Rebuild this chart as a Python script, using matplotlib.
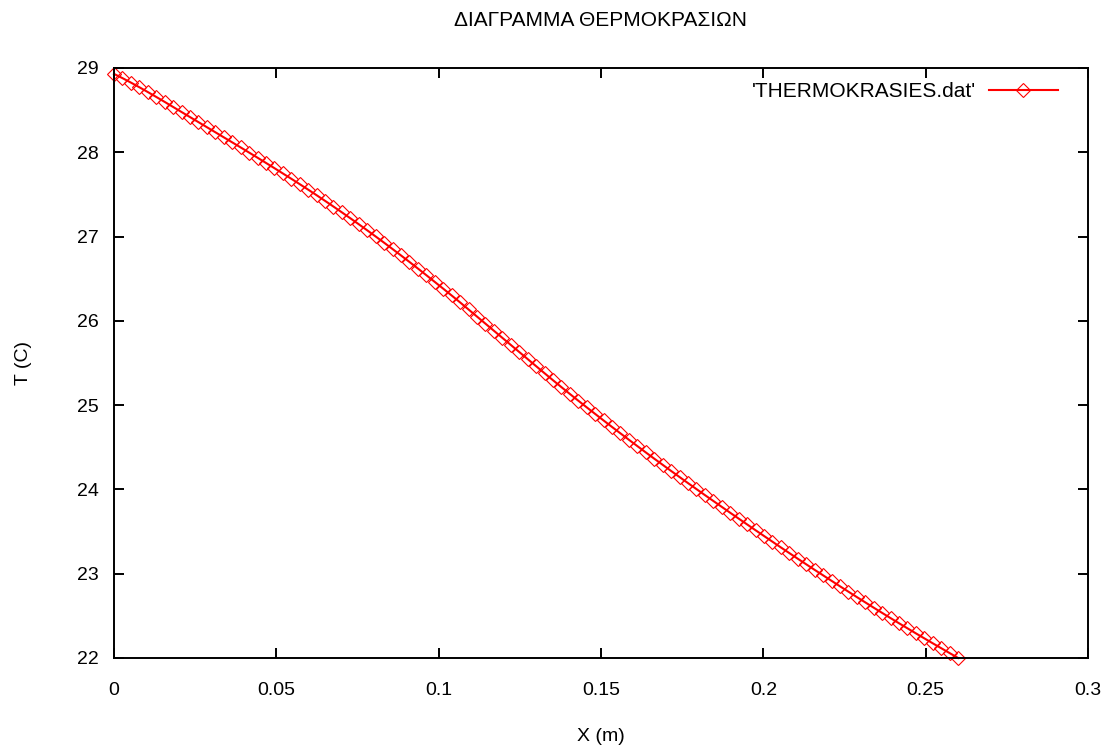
import matplotlib
matplotlib.use("Agg")
import matplotlib.pyplot as plt
import numpy as np

plt.rcParams["font.family"] = ["Liberation Sans", "DejaVu Sans"]

TITLE = "ΔΙΑΓΡΑΜΜΑ ΘΕΡΜΟΚΡΑΣΙΩΝ"
SERIES_LABEL = "'THERMOKRASIES.dat'"

# sample positions along the rod (m), 101 nodes
X_START = 0.0
X_END = 0.26
N_POINTS = 101
x_vals = np.linspace(X_START, X_END, N_POINTS)

# temperatures (C)
t_vals = [
    28.930, 28.880, 28.827, 28.772, 28.715, 28.657, 28.598, 28.538, 28.478, 28.418,
    28.358, 28.298, 28.238, 28.178, 28.118, 28.058, 27.997, 27.936, 27.874, 27.812,
    27.749, 27.686, 27.622, 27.557, 27.491, 27.424, 27.356, 27.287, 27.217, 27.146,
    27.074, 27.001, 26.927, 26.852, 26.776, 26.699, 26.621, 26.542, 26.462, 26.382,
    26.301, 26.219, 26.135, 26.051, 25.967, 25.883, 25.799, 25.715, 25.631, 25.547,
    25.463, 25.379, 25.296, 25.214, 25.133, 25.053, 24.974, 24.896, 24.818, 24.741,
    24.665, 24.589, 24.514, 24.439, 24.365, 24.292, 24.219, 24.147, 24.075, 24.004,
    23.933, 23.863, 23.793, 23.723, 23.654, 23.585, 23.516, 23.448, 23.380, 23.312,
    23.245, 23.178, 23.112, 23.046, 22.981, 22.916, 22.851, 22.787, 22.723, 22.660,
    22.597, 22.535, 22.473, 22.412, 22.352, 22.292, 22.233, 22.174, 22.116, 22.058,
    22.000,
]

x_ticks = [0, 0.05, 0.1, 0.15, 0.2, 0.25, 0.3]
x_tick_labels = ["0", "0.05", "0.1", "0.15", "0.2", "0.25", "0.3"]
y_ticks = [22, 23, 24, 25, 26, 27, 28, 29]
y_tick_labels = ["22", "23", "24", "25", "26", "27", "28", "29"]

W, H = 1110, 749
fig = plt.figure(figsize=(W / 100, H / 100), dpi=100)
ax = fig.add_axes([114 / W, 1 - 658 / H, (1088 - 114) / W, (658 - 68) / H])

ax.plot(x_vals, t_vals, color="#ff0000", lw=1.5, marker="D", ms=6.8,
        mfc="none", mec="#ff0000", mew=0.8, label=SERIES_LABEL, clip_on=False)

ax.set_xlim(0, 0.3)
ax.set_ylim(22, 29)
ax.set_xticks(x_ticks)
ax.set_xticklabels(x_tick_labels)
ax.set_yticks(y_ticks)
ax.set_yticklabels(y_tick_labels)

for s in ax.spines.values():
    s.set_linewidth(1.4)
ax.tick_params(axis="both", direction="in", length=7, width=1.4,
               top=True, right=True, labelsize=14, colors="black")
ax.tick_params(axis="x", pad=17)
ax.tick_params(axis="y", pad=11)

ax.set_xlabel("X (m)", fontsize=14, labelpad=21)
ax.set_ylabel("T (C)", fontsize=14, labelpad=32)
fig.text(601 / W, 1 - 21 / H, TITLE, fontsize=15, ha="center", va="center")

ax.legend(loc="upper right", frameon=False, markerfirst=False, numpoints=1,
          fontsize=15, handlelength=3.3, handletextpad=0.6, borderpad=0,
          bbox_to_anchor=(1068 / W, 1 - 72 / H), bbox_transform=fig.transFigure)

fig.savefig("out.png", dpi=100, facecolor="white")
